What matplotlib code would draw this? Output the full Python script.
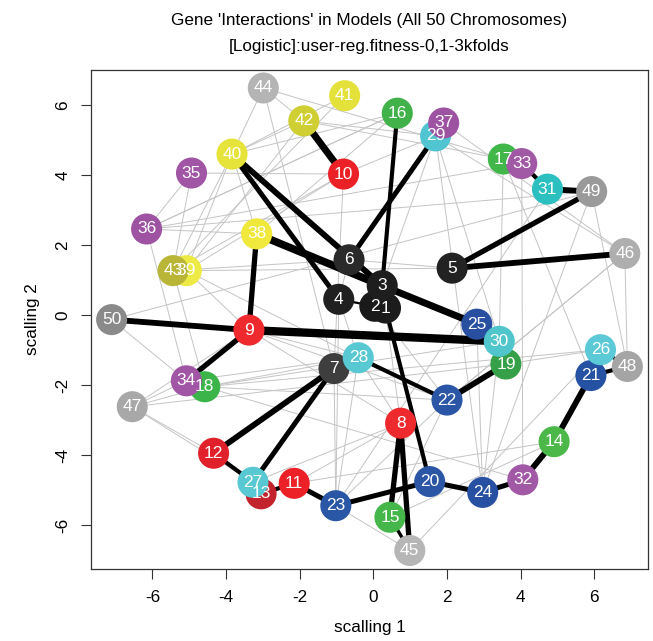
import matplotlib
matplotlib.use("Agg")
import matplotlib.pyplot as plt
import numpy as np

plt.rcParams['font.family'] = ['Liberation Sans', 'DejaVu Sans']

# MDS coordinates of the 50 chromosomes (scalling 1, scalling 2)
node_ids = list(range(1, 51))
scal1 = [0.33, 0.04, 0.24, -0.94, 2.14, -0.66, -1.07, 0.74, -3.38, -0.81,
         -2.15, -4.34, -3.05, 4.91, 0.45, 0.65, 3.53, -4.58, 3.60, 1.53,
         5.91, 2.00, -1.02, 2.97, 2.81, 6.17, -3.27, -0.41, 1.69, 3.42,
         4.73, 4.06, 4.03, -5.08, -4.94, -6.16, 1.91, -3.17, -5.08, -3.84,
         -0.78, -1.89, -5.44, -2.99, 0.99, 6.83, -6.55, 6.90, 5.93, -7.11]
scal2 = [0.20, 0.25, 0.84, 0.45, 1.34, 1.58, -1.53, -3.09, -0.43, 4.03,
         -4.81, -3.95, -5.11, -3.62, -5.78, 5.77, 4.46, -2.05, -1.40, -4.76,
         -1.73, -2.43, -5.45, -5.07, -0.26, -0.99, -4.78, -1.22, 5.12, -0.75,
         3.60, -4.71, 4.33, -1.88, 4.06, 2.46, 5.49, 2.32, 1.27, 4.60,
         6.27, 5.55, 1.27, 6.49, -6.73, 1.76, -2.62, -1.47, 3.53, -0.13]

node_colors = [
    '#1c1c1c', '#1a1a1a', '#1e1e1e', '#202020', '#222222', '#2a2a2a', '#3e3e3e',
    '#ee2a2e', '#ee2a2e', '#ec2027', '#ec2027', '#e0202a', '#c2232c',
    '#4cb84a', '#45b649', '#41b14a', '#41b649', '#3bb44a', '#35a047',
    '#2b55a5', '#2652a3', '#2b55a5', '#2a56a6', '#2850a2', '#284fa0',
    '#5ccad6', '#58c8d2', '#58c8d2', '#50c4d0', '#50c6cc', '#2cbfbf',
    '#a159a5', '#a159a5', '#a055a5', '#a055a5', '#9e52a2', '#9e52a2',
    '#f0e83a', '#eeea45', '#e6e33a', '#e4e13b', '#cfcf34', '#b9b536',
    '#b4b4b4', '#b6b6b6', '#aeaeae', '#a8a8a8', '#a5a5a5', '#9a9a9a', '#8a8a8a']

# Strong interactions: (gene a, gene b, strength)
strong_a = [42, 40, 40, 38, 3, 50, 9, 38, 9, 6, 16, 1, 4, 5, 5, 31, 33,
            28, 22, 7, 7, 12, 13, 11, 23, 20, 24, 32, 14, 21, 26, 8, 8, 15]
strong_b = [10, 3, 4, 3, 25, 9, 30, 9, 34, 29, 3, 20, 2, 49, 46, 49, 31,
            22, 19, 12, 27, 27, 11, 23, 20, 24, 32, 14, 21, 48, 48, 15, 45, 45]
strong_w = [5.0, 4.2, 3.6, 5.5, 5.0, 4.2, 6.0, 3.8, 3.8, 3.6, 3.0, 3.0, 1.6, 3.8, 4.2, 4.2, 3.0,
            3.0, 4.2, 4.2, 3.6, 3.0, 3.0, 3.6, 3.6, 3.6, 3.6, 4.2, 4.2, 3.0, 2.4, 3.8, 3.8, 2.4]

# Weak interactions
weak_a = [44, 44, 44, 44, 41, 41, 42, 42, 42, 40, 40, 40, 35, 35, 35, 36, 36, 36,
          10, 10, 10, 43, 39, 39, 50, 50, 47, 47, 47, 47, 47, 18, 18, 18, 18, 34,
          6, 4, 4, 3, 9, 9, 9, 28, 28, 7, 11, 11, 23, 23, 15, 45, 24, 32, 26,
          48, 48, 46, 46, 49, 31, 17, 17, 29, 29, 16, 16, 37, 38, 27, 12, 2, 25,
          22, 21, 19, 30, 14, 43, 39, 36, 10, 6, 33]
weak_b = [40, 42, 7, 17, 40, 43, 40, 39, 29, 39, 43, 38, 10, 36, 43, 38, 34, 16,
          7, 39, 43, 6, 28, 5, 49, 34, 34, 18, 9, 19, 27, 28, 30, 22, 32, 28,
          4, 28, 23, 8, 28, 22, 8, 23, 8, 23, 8, 14, 45, 22, 22, 26, 30, 33, 18,
          46, 49, 29, 22, 24, 23, 42, 30, 24, 3, 36, 40, 46, 16, 8, 47, 22, 24,
          46, 17, 26, 29, 15, 18, 9, 49, 29, 5, 36]

fig = plt.figure(figsize=(6.53, 6.41), dpi=100)
ax = fig.add_axes([91 / 653, 1 - 569 / 641, (648 - 91) / 653, (569 - 69.5) / 641])

x = np.array(scal1)
y = np.array(scal2)

for a, b in zip(weak_a, weak_b):
    ax.plot([x[a - 1], x[b - 1]], [y[a - 1], y[b - 1]], color='#c4c4c4',
            lw=0.7, solid_capstyle='butt', zorder=1)
for a, b, w in zip(strong_a, strong_b, strong_w):
    ax.plot([x[a - 1], x[b - 1]], [y[a - 1], y[b - 1]], color='black',
            lw=w, solid_capstyle='butt', zorder=2)

for i in range(len(node_ids)):
    ax.scatter(x[i], y[i], s=500, color=node_colors[i], edgecolors='none', zorder=3 + i * 0.001)
for i, nid in enumerate(node_ids):
    ax.text(x[i], y[i], str(nid), color='white', fontsize=12.5, ha='center',
            va='center', zorder=5)

# R-style limits: data range padded by 4 %
xr = x.max() - x.min()
yr = y.max() - y.min()
ax.set_xlim(x.min() - 0.04 * xr, x.max() + 0.04 * xr)
ax.set_ylim(y.min() - 0.04 * yr, y.max() + 0.04 * yr)

ticks = [-6, -4, -2, 0, 2, 4, 6]
ax.set_xticks(ticks)
ax.set_yticks(ticks)
ax.set_xticklabels([str(t) for t in ticks], fontsize=12.3)
ax.set_yticklabels([str(t) for t in ticks], fontsize=12.3, rotation=90, va='center')
ax.tick_params(direction='out', length=7, width=0.8, color='#333333', pad=8)
for s in ax.spines.values():
    s.set_linewidth(0.9)
    s.set_color('#333333')

ax.set_xlabel('scalling 1', fontsize=12.3, labelpad=11)
ax.set_ylabel('scalling 2', fontsize=12.3, labelpad=11)

cx = (91 + 648) / 2 / 653
fig.text(cx, 1 - 20 / 641, "Gene 'Interactions' in Models (All 50 Chromosomes)",
         ha='center', va='center', fontsize=12.3)
fig.text(cx, 1 - 47 / 641, "[Logistic]:user-reg.fitness-0,1-3kfolds",
         ha='center', va='center', fontsize=12.3)

fig.savefig('out.png', dpi=100)
